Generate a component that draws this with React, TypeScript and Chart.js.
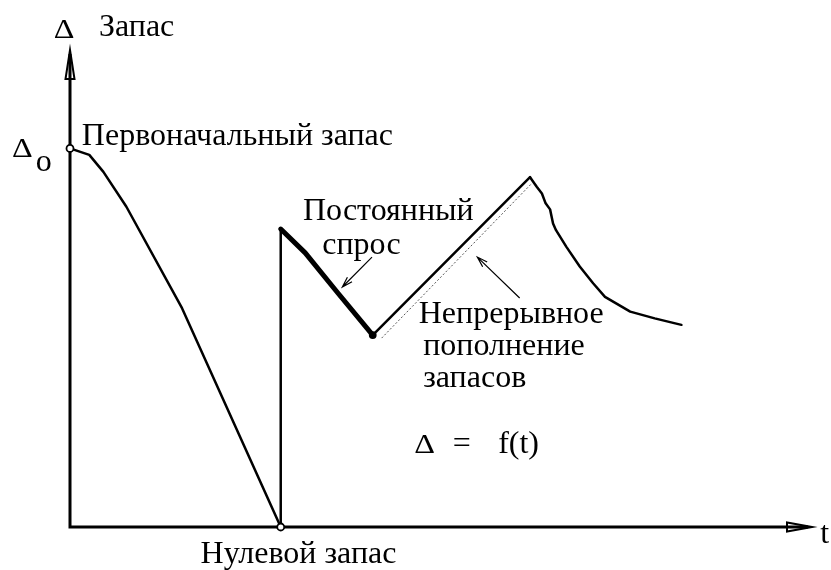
import React, { useEffect, useRef } from "react";
import { Chart, registerables } from "chart.js";

Chart.register(...registerables);

// Stock level Δ against time t (time 0..100, stock 0..126, Δo = 100)
const initialT = [0, 2.6, 4.5, 7.6, 15.1, 28.4];
const initialStock = [100, 98.3, 93.8, 84.6, 57.8, 0];

const deliveryT = [28.4, 28.4];
const deliveryStock = [0, 78.7];

const demandT = [28.4, 31.7, 36.1, 40.8];
const demandStock = [78.7, 72.4, 61.8, 50.7];

const refillT = [40.8, 62.0];
const refillStock = [50.7, 92.4];

const laterT = [62.0, 62.9, 63.6, 64.1, 64.7, 65.1, 65.5, 66.9, 68.7, 70.5, 72.1, 75.5, 78.8, 82.4];
const laterStock = [92.4, 89.9, 88.1, 85.5, 83.9, 80.2, 78.4, 74.0, 68.8, 64.4, 60.8, 56.9, 55.1, 53.4];

const rateT = [42.0, 62.3];
const rateStock = [49.9, 90.9];

const T_MAX = 100;
const STOCK_MAX = 126;

// Text annotations: [text, t, stock, fontPx]
const labels: [string, number, number, number][] = [
  ["Δ", -2.2, 129.2, 28],
  ["Запас", 3.9, 129.7, 32],
  ["Δ", -7.8, 97.7, 28],
  ["o", -4.6, 94.0, 32],
  ["Первоначальный запас", 1.6, 100.9, 32],
  ["Постоянный", 31.4, 81.1, 32],
  ["спрос", 34.0, 72.1, 32],
  ["Непрерывное", 47.0, 53.9, 32],
  ["пополнение", 47.6, 45.4, 32],
  ["запасов", 47.6, 37.0, 32],
  ["Δ", 46.4, 19.5, 28],
  ["=", 51.6, 19.5, 32],
  ["f(t)", 57.7, 19.5, 32],
  ["Нулевой запас", 17.6, -9.5, 32],
  ["t", 101.1, -4.2, 32],
];

// Pointer arrows: [fromT, fromStock, toT, toStock]
const pointers: [number, number, number, number][] = [
  [40.7, 71.3, 36.7, 63.4],
  [60.6, 60.5, 54.9, 71.3],
];

const toPts = (xs: number[], ys: number[]) => xs.map((x, i) => ({ x, y: ys[i] }));

const diagramPlugin = {
  id: "diagram",
  beforeDatasetsDraw(chart: any) {
    const { ctx, chartArea } = chart;
    const L = chartArea.left;
    const B = chartArea.bottom;
    const T = chartArea.top;
    const R = chartArea.right;
    ctx.save();
    ctx.strokeStyle = "#000";
    ctx.lineCap = "butt";

    // axes
    ctx.lineWidth = 3;
    ctx.beginPath();
    ctx.moveTo(L, B + 1.5);
    ctx.lineTo(L, T + 4);
    ctx.moveTo(L - 1.5, B);
    ctx.lineTo(R - 4, B);
    ctx.stroke();

    // open arrow heads on the axes
    ctx.lineWidth = 2;
    ctx.lineJoin = "miter";
    ctx.beginPath();
    ctx.moveTo(L, T);
    ctx.lineTo(L + 4.5, T + 29);
    ctx.lineTo(L - 4.5, T + 29);
    ctx.closePath();
    ctx.stroke();
    ctx.beginPath();
    ctx.moveTo(R, B);
    ctx.lineTo(R - 25, B - 4.5);
    ctx.lineTo(R - 25, B + 4.5);
    ctx.closePath();
    ctx.stroke();
    ctx.restore();
  },
  afterDatasetsDraw(chart: any) {
    const { ctx, scales } = chart;
    const sx = scales.x;
    const sy = scales.y;
    ctx.save();
    ctx.strokeStyle = "#000";

    // thin pointer arrows
    ctx.lineWidth = 1.2;
    pointers.forEach(([x0, y0, x1, y1]) => {
      const ax = sx.getPixelForValue(x0);
      const ay = sy.getPixelForValue(y0);
      const bx = sx.getPixelForValue(x1);
      const by = sy.getPixelForValue(y1);
      const ang = Math.atan2(by - ay, bx - ax);
      const len = 11;
      const spread = 0.3;
      ctx.beginPath();
      ctx.moveTo(ax, ay);
      ctx.lineTo(bx, by);
      ctx.moveTo(bx - len * Math.cos(ang - spread), by - len * Math.sin(ang - spread));
      ctx.lineTo(bx, by);
      ctx.lineTo(bx - len * Math.cos(ang + spread), by - len * Math.sin(ang + spread));
      ctx.stroke();
    });

    // text
    ctx.fillStyle = "#000";
    ctx.textAlign = "left";
    ctx.textBaseline = "alphabetic";
    labels.forEach(([text, x, y, size]) => {
      ctx.font = `${size}px "Liberation Serif"`;
      const px = sx.getPixelForValue(x);
      const py = sy.getPixelForValue(y);
      if (text === "Δ") {
        ctx.save();
        ctx.translate(px, py);
        ctx.scale(1.15, 1);
        ctx.fillText(text, 0, 0);
        ctx.restore();
      } else {
        ctx.fillText(text, px, py);
      }
    });
    ctx.restore();
  },
};

export default function App() {
  const canvasRef = useRef<HTMLCanvasElement | null>(null);

  useEffect(() => {
    const canvas = canvasRef.current;
    if (!canvas) return;
    const line = (data: any, width: number, extra: any = {}) => ({
      data,
      showLine: true,
      borderColor: "#000",
      borderWidth: width,
      pointRadius: 0,
      fill: false,
      tension: 0,
      clip: false,
      borderJoinStyle: "round",
      borderCapStyle: "round",
      ...extra,
    });
    const chart = new Chart(canvas, {
      type: "scatter",
      data: {
        datasets: [
          {
            data: [
              { x: initialT[0], y: initialStock[0] },
              { x: deliveryT[0], y: deliveryStock[0] },
              { x: demandT[demandT.length - 1], y: demandStock[demandStock.length - 1] },
            ],
            showLine: false,
            clip: false,
            pointRadius: [3.5, 3.5, 3],
            pointBackgroundColor: ["#fff", "#fff", "#000"],
            pointBorderColor: "#000",
            pointBorderWidth: 1.8,
          },
          line(toPts(rateT, rateStock), 1, { borderColor: "#555", borderDash: [2, 2], borderCapStyle: "butt" }),
          line(toPts(initialT, initialStock), 2.5),
          line(toPts(deliveryT, deliveryStock), 2.5, { borderCapStyle: "butt" }),
          line(toPts(demandT, demandStock), 5),
          line(toPts(refillT, refillStock), 2.5),
          line(toPts(laterT, laterStock), 2.5),
        ],
      },
      options: {
        animation: false,
        responsive: false,
        devicePixelRatio: 1,
        layout: { padding: { left: 70, right: 19, top: 50, bottom: 43 } },
        plugins: { legend: { display: false }, tooltip: { enabled: false } },
        events: [],
        scales: {
          x: { type: "linear", min: 0, max: T_MAX, display: false },
          y: { type: "linear", min: 0, max: STOCK_MAX, display: false },
        },
      },
      plugins: [diagramPlugin],
    } as any);
    return () => {
      chart.destroy();
    };
  }, []);

  return (
    <div style={{ position: "absolute", left: 0, top: 0, width: 831, height: 570, background: "#fff" }}>
      <canvas ref={canvasRef} width={831} height={570} style={{ display: "block" }} />
    </div>
  );
}
